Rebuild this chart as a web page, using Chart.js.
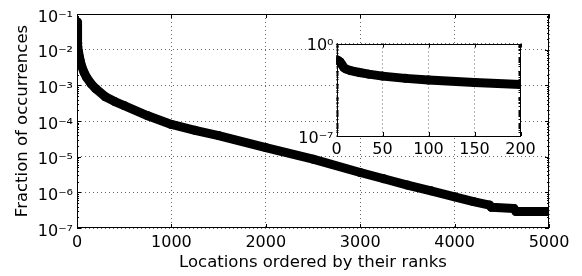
<!DOCTYPE html>
<html lang="en">
<head>
<meta charset="UTF-8">
<script src="https://cdn.jsdelivr.net/npm/chart.js@4"></script>
<title>Rank distribution</title>
<style>
  html, body { margin: 0; padding: 0; background: #fff; }
  #wrap { position: relative; width: 582px; height: 276px; }
  #wrap canvas { position: absolute; left: 0; top: 0; }
</style>
</head>
<body>
<div id="wrap">
  <canvas id="mainChart" width="582" height="276"></canvas>
  <canvas id="insetChart" width="582" height="276"></canvas>
</div>
<script>
// values
const ranks = [0, 2, 4, 6, 8, 10, 15, 25, 35, 50, 75, 100, 150, 200, 300, 400, 500, 750,
               1000, 1250, 1500, 2000, 2500, 3000, 3250, 3500, 3750, 4000, 4200, 4370,
               4390, 4630, 4650, 5000];
const fractions = [6e-2, 5e-2, 4e-2, 2.5e-2, 1.5e-2, 1.2e-2, 9e-3, 6.4e-3, 4.8e-3, 3.4e-3,
                   2.3e-3, 1.7e-3, 1.1e-3, 8e-4, 4.8e-4, 3.5e-4, 2.7e-4, 1.4e-4,
                   8e-5, 5.5e-5, 3.9e-5, 1.8e-5, 8.5e-6, 3.6e-6, 2.4e-6, 1.6e-6, 1.1e-6, 7.5e-7,
                   5.5e-7, 4.4e-7, 3.8e-7, 3.5e-7, 2.9e-7, 2.9e-7];

const mainXTicks = [0, 1000, 2000, 3000, 4000, 5000];
const mainYTicks = [1e-7, 1e-6, 1e-5, 1e-4, 1e-3, 1e-2, 1e-1];
const insetXTicks = [0, 50, 100, 150, 200];
const insetYTicks = [1e-7, 1e0];
const insetMaxRank = 200;

Chart.defaults.font.family = 'DejaVu Sans';
Chart.defaults.color = '#000';

const sup = { '-': '\u207B', '0': '\u2070', '1': '\u00B9', '2': '\u00B2', '3': '\u00B3',
              '4': '\u2074', '5': '\u2075', '6': '\u2076', '7': '\u2077', '8': '\u2078', '9': '\u2079' };
// empty first line pushes the label a bit below the tick, like mathtext does
function powLabel(v) {
    const e = Math.round(Math.log10(v));
    return ['', '10' + String(e).split('').map(c => sup[c]).join('')];
}

// matplotlib style frame with inward ticks (major + log minor)
const frameTicks = {
    id: 'frameTicks',
    beforeDraw(chart, args, opts) {
        if (!opts.fill) return;
        const a = chart.chartArea;
        chart.ctx.save();
        chart.ctx.fillStyle = '#fff';
        chart.ctx.fillRect(a.left, a.top, a.right - a.left, a.bottom - a.top);
        chart.ctx.restore();
    },
    afterDraw(chart, args, opts) {
        const { ctx, chartArea: a, scales: { x, y } } = chart;
        ctx.save();
        ctx.strokeStyle = '#000';
        ctx.lineWidth = 1;
        ctx.beginPath();
        opts.xTicks.forEach(v => {
            const px = Math.round(x.getPixelForValue(v)) + 0.5;
            ctx.moveTo(px, a.bottom); ctx.lineTo(px, a.bottom - 4);
            ctx.moveTo(px, a.top); ctx.lineTo(px, a.top + 4);
        });
        opts.yTicks.forEach(v => {
            const py = Math.round(y.getPixelForValue(v)) + 0.5;
            ctx.moveTo(a.left, py); ctx.lineTo(a.left + 4, py);
            ctx.moveTo(a.right, py); ctx.lineTo(a.right - 4, py);
        });
        const lo = Math.round(Math.log10(y.min)), hi = Math.round(Math.log10(y.max));
        for (let d = lo; d < hi; d++) {
            for (let m = 2; m <= 9; m++) {
                const py = Math.round(y.getPixelForValue(m * Math.pow(10, d))) + 0.5;
                ctx.moveTo(a.left, py); ctx.lineTo(a.left + 2, py);
                ctx.moveTo(a.right, py); ctx.lineTo(a.right - 2, py);
            }
        }
        ctx.stroke();
        ctx.strokeRect(Math.round(a.left) + 0.5, Math.round(a.top) + 0.5,
                       Math.round(a.right - a.left) - 1, Math.round(a.bottom - a.top) - 1);
        ctx.restore();
    }
};

function makeDataset(xs, ys) {
    return {
        data: xs.map((r, i) => ({ x: r, y: ys[i] })),
        borderColor: '#000',
        backgroundColor: '#000',
        borderWidth: 9,
        borderJoinStyle: 'round',
        borderCapStyle: 'round',
        pointRadius: 4.5,
        pointBorderWidth: 0,
        pointBackgroundColor: '#000',
        tension: 0,
        clip: 0
    };
}

const gridStyle = { color: 'rgba(0,0,0,0.6)', lineWidth: 1, drawTicks: false };
const tickFont = { size: 16 };

// Main chart
new Chart(document.getElementById('mainChart'), {
    type: 'line',
    data: { datasets: [makeDataset(ranks, fractions)] },
    options: {
        responsive: false,
        animation: false,
        devicePixelRatio: 1,
        events: [],
        layout: { padding: { top: 14, right: 33, bottom: 0, left: 0 } },
        plugins: {
            legend: { display: false },
            tooltip: { enabled: false },
            frameTicks: { xTicks: mainXTicks, yTicks: mainYTicks, fill: false }
        },
        scales: {
            x: {
                type: 'linear', min: 0, max: 5000,
                afterBuildTicks: s => { s.ticks = mainXTicks.map(v => ({ value: v })); },
                afterFit: s => { s.height = 48; },
                grid: gridStyle,
                border: { display: false, dash: [1, 3] },
                ticks: { font: tickFont, padding: 5, maxRotation: 0, autoSkip: false, callback: v => String(v) },
                title: {
                    display: true, text: 'Locations ordered by their ranks',
                    font: { size: 16.5 }, padding: { top: 0, bottom: 3.6 }
                }
            },
            y: {
                type: 'logarithmic', min: 1e-7, max: 1e-1,
                afterBuildTicks: s => { s.ticks = mainYTicks.map(v => ({ value: v })); },
                afterFit: s => { s.width = 77; },
                grid: gridStyle,
                border: { display: false, dash: [1, 3] },
                ticks: { font: { size: 16, lineHeight: '7px' }, padding: 4, autoSkip: false, callback: v => powLabel(v) },
                title: {
                    display: true, text: 'Fraction of occurrences',
                    font: { size: 16.5 }, padding: { top: 13, bottom: 0 }
                }
            }
        }
    },
    plugins: [frameTicks]
});

// Inset: first ranks
const insetRanks = ranks.filter(r => r <= insetMaxRank);
const insetFractions = fractions.slice(0, insetRanks.length);

new Chart(document.getElementById('insetChart'), {
    type: 'line',
    data: { datasets: [makeDataset(insetRanks, insetFractions)] },
    options: {
        responsive: false,
        animation: false,
        devicePixelRatio: 1,
        events: [],
        layout: { padding: { top: 43.5, right: 61.5, bottom: 110, left: 296.5 } },
        plugins: {
            legend: { display: false },
            tooltip: { enabled: false },
            frameTicks: { xTicks: insetXTicks, yTicks: insetYTicks, fill: true }
        },
        scales: {
            x: {
                type: 'linear', min: 0, max: 200,
                afterBuildTicks: s => { s.ticks = insetXTicks.map(v => ({ value: v })); },
                afterFit: s => { s.height = 30; },
                grid: gridStyle,
                border: { display: false, dash: [1, 3] },
                ticks: { font: tickFont, padding: 4, maxRotation: 0, autoSkip: false, callback: v => String(v) }
            },
            y: {
                type: 'logarithmic', min: 1e-7, max: 1e0,
                afterBuildTicks: s => { s.ticks = insetYTicks.map(v => ({ value: v })); },
                afterFit: s => { s.width = 40; },
                grid: gridStyle,
                border: { display: false, dash: [1, 3] },
                ticks: { font: { size: 16, lineHeight: '5px' }, padding: 3, autoSkip: false, callback: v => powLabel(v) }
            }
        }
    },
    plugins: [frameTicks]
});
</script>
</body>
</html>
